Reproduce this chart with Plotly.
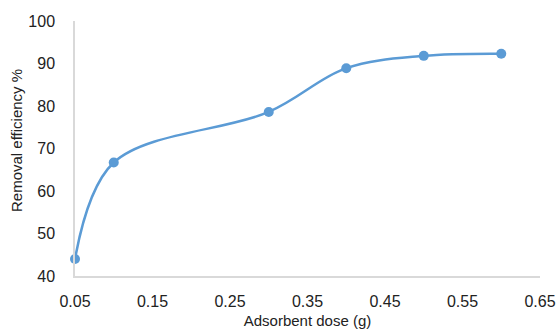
import plotly.graph_objects as go

dose = [0.05, 0.1, 0.3, 0.4, 0.5, 0.6]
efficiency = [44.0, 66.7, 78.6, 88.9, 91.8, 92.3]
x_ticks = [0.05, 0.15, 0.25, 0.35, 0.45, 0.55, 0.65]
y_ticks = [40, 50, 60, 70, 80, 90, 100]

fig = go.Figure(go.Scatter(
    x=dose, y=efficiency, mode="lines+markers", cliponaxis=False,
    line=dict(color="#5b9bd5", width=2.5, shape="spline", smoothing=1),
    marker=dict(color="#5b9bd5", size=10),
))
font = "Liberation Sans, Arial, sans-serif"
fig.update_layout(
    width=560, height=331,
    margin=dict(l=75, r=20, t=21, b=55),
    plot_bgcolor="white", paper_bgcolor="white",
    showlegend=False,
    font=dict(family=font, color="#222222"),
    annotations=[dict(
        text="Removal efficiency %", textangle=-90, showarrow=False,
        xref="paper", yref="paper", x=(16 - 75) / 465, y=(276 - 140) / 255,
        xanchor="center", yanchor="middle", font=dict(size=15),
    )],
)
fig.update_xaxes(
    range=[0.05, 0.65], tickvals=x_ticks, ticktext=[f"{v:.2f}" for v in x_ticks],
    showgrid=False, zeroline=False, showline=True, linecolor="#d9d9d9", linewidth=1.5,
    ticks="", tickfont=dict(size=16), automargin=False, ticklabelstandoff=10,
    title=dict(text="Adsorbent dose (g)", font=dict(size=15), standoff=7),
)
fig.update_yaxes(
    range=[40, 100], tickvals=y_ticks,
    showgrid=False, zeroline=False, showline=True, linecolor="#d9d9d9", linewidth=1.5,
    ticks="", tickfont=dict(size=16), ticklabelstandoff=15, automargin=False,
)
fig.write_html("out.html", config={"displayModeBar": False},
               post_script="document.body.style.margin='0';document.body.style.overflow='hidden';")
